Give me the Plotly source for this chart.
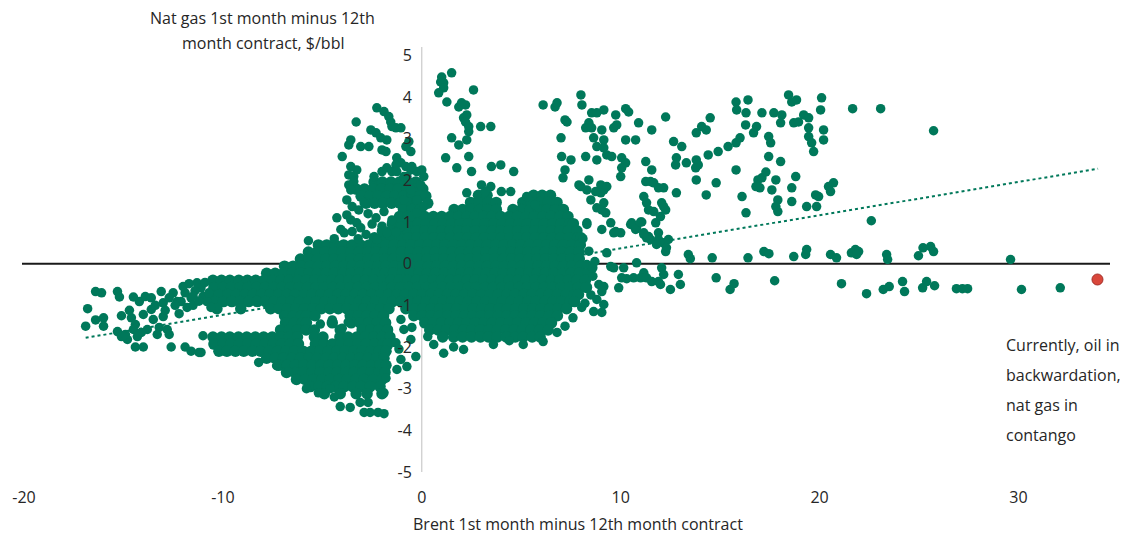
import plotly.graph_objects as go

# Brent 1st-12th month spread (x) vs nat gas 1st-12th month spread (y), $/bbl

# Dense part of the cloud, one row per gas-spread level: (y, [x values])
dense_rows = [
    (1.96, [-2.4, -1.98, -1.55, -1.12, -0.7, -0.3]),
    (1.79, [-3.3, -2.88, -2.45, -2.03, -1.6, -1.18, -0.75, -0.33, 0.05]),
    (1.64, [2.85, 3.28, 5.62, 6.05, 6.47]),
    (1.62, [-3.05, -2.62, -2.2, -1.77, -1.35, -0.92, -0.5, -0.08, 0.2]),
    (1.47, [2.45, 2.88, 3.33, 3.74, 5.08, 5.51, 5.93, 6.36, 6.8]),
    (1.45, [-2.8, -2.37, -1.95, -1.52, -1.1, -0.67, -0.25, 0.3]),
    (1.30, [-0.92, -0.5, -0.08, 1.62, 2.05, 2.46, 2.9, 3.31, 3.75, 4.58, 5.02,
            5.44, 5.87, 6.29, 6.72, 7.12]),
    (1.13, [-1.12, -0.7, -0.27, 0.15, 0.58, 1.0, 1.43, 1.85, 2.27, 2.7, 3.12,
            3.54, 3.97, 4.39, 4.82, 5.24, 5.66, 6.09, 6.51, 6.94, 7.35]),
    (0.96, [-1.48, -1.05, -0.63, -0.2, 0.22, 0.65, 1.07, 1.5, 1.92, 2.35, 2.77,
            3.19, 3.62, 4.04, 4.47, 4.89, 5.31, 5.74, 6.16, 6.59, 7.01, 7.43, 7.62]),
    (0.79, [-1.98, -1.55, -1.13, -0.7, -0.28, 0.15, 0.57, 1.0, 1.42, 1.85, 2.27,
            2.7, 3.12, 3.55, 3.97, 4.4, 4.82, 5.25, 5.67, 6.1, 6.52, 6.95, 7.37, 7.8]),
    (0.62, [-2.38, -1.95, -1.52, -1.1, -0.67, -0.25, 0.18, 0.6, 1.03, 1.45, 1.88,
            2.3, 2.73, 3.15, 3.58, 4.0, 4.43, 4.85, 5.28, 5.7, 6.13, 6.55, 6.98,
            7.4, 7.83, 8.0]),
    (0.45, [-5.2, -4.78, -4.35, -3.93, -3.5, -3.08, -2.65, -2.23, -1.8, -1.38,
            -0.95, -0.53, -0.1, 0.32, 0.75, 1.17, 1.6, 2.02, 2.45, 2.87, 3.3, 3.72,
            4.15, 4.57, 5.0, 5.42, 5.85, 6.27, 6.7, 7.12, 7.55, 7.97]),
    (0.28, [-5.7, -5.27, -4.85, -4.42, -4.0, -3.57, -3.15, -2.72, -2.3, -1.87,
            -1.45, -1.02, -0.6, -0.17, 0.25, 0.68, 1.1, 1.53, 1.95, 2.38, 2.8, 3.23,
            3.65, 4.08, 4.5, 4.93, 5.35, 5.78, 6.2, 6.63, 7.05, 7.48, 7.9]),
    (0.11, [-6.1, -5.68, -5.25, -4.83, -4.4, -3.98, -3.55, -3.13, -2.7, -2.28,
            -1.85, -1.43, -1.0, -0.58, -0.15, 0.27, 0.7, 1.12, 1.55, 1.97, 2.4,
            2.82, 3.25, 3.67, 4.1, 4.52, 4.95, 5.37, 5.8, 6.22, 6.65, 7.07, 7.5, 7.92]),
    (-0.06, [-6.9, -6.47, -6.05, -5.62, -5.2, -4.77, -4.35, -3.92, -3.5, -3.07,
             -2.65, -2.22, -1.8, -1.37, -0.95, -0.52, -0.1, 0.33, 0.75, 1.18, 1.6,
             2.03, 2.45, 2.88, 3.3, 3.73, 4.15, 4.58, 5.0, 5.43, 5.85, 6.28, 6.7,
             7.13, 7.55, 7.98]),
    (-0.23, [-7.8, -7.37, -6.95, -6.52, -6.1, -5.67, -5.25, -4.82, -4.4, -3.97,
             -3.55, -3.12, -2.7, -2.27, -1.85, -1.42, -1.0, -0.57, -0.15, 0.28, 0.7,
             1.13, 1.55, 1.98, 2.4, 2.83, 3.25, 3.68, 4.1, 4.53, 4.95, 5.38, 5.8,
             6.23, 6.65, 7.08, 7.5, 7.93, 8.35]),
    (-0.40, [-10.5, -10.07, -9.65, -9.2, -8.77, -8.35, -7.92, -7.5, -7.07, -6.65,
             -6.22, -5.8, -5.37, -4.95, -4.52, -4.1, -3.67, -3.25, -2.82, -2.4,
             -1.97, -1.55, -1.12, -0.7, -0.27, 0.15, 0.58, 1.0, 1.43, 1.85, 2.28,
             2.7, 3.13, 3.55, 3.98, 4.4, 4.83, 5.25, 5.68, 6.1, 6.53, 6.95, 7.38,
             7.8, 8.23]),
    (-0.57, [-10.45, -10.0, -9.57, -9.15, -8.72, -8.3, -7.87, -7.45, -7.02, -6.6,
             -6.17, -5.75, -5.32, -4.9, -4.47, -4.05, -3.62, -3.2, -2.77, -2.35,
             -1.92, -1.5, -1.07, -0.65, -0.22, 0.2, 0.63, 1.05, 1.48, 1.9, 2.33,
             2.75, 3.18, 3.6, 4.03, 4.45, 4.88, 5.3, 5.73, 6.15, 6.58, 7.0, 7.43,
             7.85, 8.28]),
    (-0.74, [-10.6, -10.17, -9.75, -9.32, -8.9, -8.47, -8.05, -7.62, -7.2, -6.77,
             -6.35, -5.92, -5.5, -5.07, -4.65, -4.22, -3.8, -3.37, -2.95, -2.52,
             -2.1, -1.67, -1.25, -0.82, -0.4, 0.03, 0.45, 0.88, 1.3, 1.73, 2.15,
             2.58, 3.0, 3.43, 3.85, 4.28, 4.7, 5.13, 5.55, 5.98, 6.4, 6.83, 7.25,
             7.68, 7.88]),
    (-0.91, [-10.4, -9.97, -9.55, -9.12, -8.7, -8.27, -7.85, -7.42, -7.0, -6.57,
             -6.15, -5.72, -5.3, -4.87, -4.45, -4.02, -3.6, -3.17, -2.75, -2.32,
             -1.9, -1.47, -1.05, -0.62, -0.2, 0.23, 0.65, 1.08, 1.5, 1.93, 2.35,
             2.78, 3.2, 3.63, 4.05, 4.48, 4.9, 5.33, 5.75, 6.18, 6.6, 7.03, 7.45, 7.68]),
    (-1.08, [-10.3, -9.1, -7.6, -7.17, -6.75, -6.32, -5.9, -5.47, -5.05, -4.62,
             -4.2, -3.77, -3.35, -2.92, -2.5, -2.07, -1.65, -0.8, -0.37, 0.05, 0.48,
             0.9, 1.33, 1.75, 2.18, 2.6, 3.03, 3.45, 3.88, 4.3, 4.73, 5.15, 5.58,
             6.0, 6.43, 6.85, 7.28]),
    (-1.25, [-6.9, -6.47, -6.05, -5.8, -5.37, -3.6, -3.2, -2.77, -2.35, -1.92,
             -0.4, 0.02, 0.45, 0.87, 1.3, 1.72, 2.15, 2.57, 3.0, 3.42, 3.85, 4.27,
             4.7, 5.12, 5.55, 5.97, 6.4, 6.82]),
    (-1.42, [-6.85, -6.42, -6.0, -5.8, -4.5, -3.55, -3.1, -2.67, -2.25, -1.82,
             0.15, 0.57, 1.0, 1.42, 1.85, 2.27, 2.7, 3.12, 3.55, 3.97, 4.4, 4.82,
             5.25, 5.67, 6.1, 6.52]),
    (-1.59, [-7.1, -6.67, -6.25, -5.82, -5.4, -4.1, -3.0, -2.57, -2.15, -1.72,
             0.4, 0.82, 1.25, 1.67, 2.1, 2.52, 2.95, 3.37, 3.8, 4.22, 4.65, 5.07,
             5.5, 5.92, 6.35]),
    (-1.76, [-10.5, -10.07, -9.65, -9.22, -8.8, -8.37, -7.95, -7.52, -7.1, -6.67,
             -6.25, -5.4, -4.97, -4.12, -3.7, -3.27, -2.85, -2.42, -2.0, -1.6, 1.05,
             1.6, 2.05, 2.5, 2.95, 3.35, 3.8, 4.25, 4.7, 5.1, 5.55, 5.95]),
    (-1.93, [-10.45, -10.0, -9.6, -9.17, -8.75, -8.32, -7.9, -7.47, -7.05, -6.62,
             -6.2, -5.35, -4.92, -4.5, -4.07, -3.65, -3.22, -2.8, -2.37, -1.95, -1.7]),
    (-2.10, [-10.2, -9.8, -9.37, -8.95, -8.52, -8.1, -7.67, -7.25, -6.82, -6.4,
             -5.97, -5.55, -5.12, -4.7, -4.27, -3.85, -3.42, -3.0, -2.57, -2.15, -1.8]),
    (-2.27, [-7.8, -7.37, -6.95, -6.52, -6.1, -5.67, -5.25, -4.82, -4.4, -3.97,
             -3.55, -3.12, -2.7, -2.27, -1.9]),
    (-2.44, [-7.2, -6.77, -6.35, -5.92, -5.5, -5.07, -4.65, -4.22, -3.8, -3.37,
             -2.95, -2.52, -2.1, -1.8]),
    (-2.61, [-6.8, -6.37, -5.95, -5.52, -5.1, -4.67, -4.25, -3.82, -3.4, -2.97,
             -2.55, -2.15, -1.85]),
    (-2.78, [-6.3, -5.87, -5.45, -5.02, -4.6, -4.17, -3.75, -3.32, -2.9, -2.45, -2.0]),
    (-2.95, [-5.6, -5.17, -4.75, -4.32, -3.9, -3.47, -3.05, -2.6, -2.1]),
    (-3.12, [-4.9, -4.1, -3.3, -2.75, -2.0]),
]

# Scattered observations, (x, y)
left_tail = [
    (-16.4, -0.67), (-16.1, -0.7), (-15.3, -0.67), (-15.2, -0.8), (-16.8, -1.08),
    (-16.9, -1.5), (-16.4, -1.35), (-16.0, -1.3), (-16.0, -1.5), (-14.5, -0.8),
    (-15.1, -1.25), (-14.6, -1.3), (-14.4, -1.46), (-14.5, -1.58), (-15.3, -1.63),
    (-15.1, -1.75), (-14.8, -1.82), (-14.9, -1.7), (-14.4, -2.0), (-14.0, -2.0),
    (-14.2, -0.91), (-13.9, -0.79), (-13.6, -0.82), (-13.1, -0.67), (-13.6, -1.1),
    (-14.0, -1.22), (-13.5, -1.34), (-13.2, -1.53), (-13.8, -1.58), (-14.1, -1.65),
    (-13.0, -1.27), (-12.8, -1.58), (-12.7, -1.7), (-12.6, -2.0), (-13.0, -0.94),
    (-12.5, -0.7), (-12.3, -0.91), (-11.9, -0.7), (-12.1, -0.91), (-11.9, -2.0),
    (-11.6, -2.1), (-11.2, -2.13), (-11.1, -2.13), (-11.0, -1.73), (-11.6, -0.82),
    (-11.3, -0.46), (-11.1, -0.58), (-11.0, -0.79), (-10.8, -0.91), (-10.6, -1.05),
    (-13.4, -1.0), (-12.9, -1.12), (-13.3, -1.7), (-12.2, -1.2), (-11.8, -1.05),
    (-11.5, -1.0), (-12.0, -0.55), (-11.7, -0.48), (-14.7, -1.12), (-14.3, -1.75),
    (-12.7, -0.82), (-12.4, -1.0), (-11.4, -0.65), (-11.2, -0.9), (-10.9, -0.45),
    (-10.7, -0.7), (-11.5, -0.78),
]

spike_pts = [
    (-2.26, 3.74), (-1.9, 3.65), (-1.66, 3.53), (-1.56, 3.4), (-1.5, 3.29),
    (-1.3, 3.26), (-1.05, 3.26), (-3.3, 3.4), (-2.56, 3.21), (-2.3, 3.14),
    (-2.06, 3.02), (-1.76, 2.97), (-3.57, 2.97), (-3.67, 2.85), (-3.07, 2.81),
    (-2.66, 2.81), (-2.0, 2.73), (-1.8, 2.69), (-0.65, 2.93), (-0.55, 2.69),
    (-0.8, 2.81), (-4.0, 2.57), (-1.26, 2.54), (-1.05, 2.42), (-1.3, 2.37),
    (-3.57, 2.33), (-3.27, 2.25), (-3.67, 2.13), (-3.42, 2.09), (-3.42, 1.97),
    (-2.4, 2.09), (-2.0, 2.21), (-1.76, 2.3), (-1.5, 2.21), (-1.26, 2.21),
    (-0.9, 2.09), (-0.55, 2.25), (-0.25, 2.21), (-3.67, 1.89), (-3.57, 1.77),
    (-3.77, 1.53), (-3.5, 1.37), (-3.17, 1.29), (-2.9, 1.46), (-4.27, 1.1),
    (-3.77, 1.17), (-3.57, 1.05), (-3.27, 0.98), (-4.07, 0.82), (-3.9, 0.74),
    (-3.5, 0.77), (-3.07, 0.86), (-2.26, 0.58), (-1.76, 0.74), (-1.05, 0.89),
    (-0.55, 1.13), (-0.25, 1.22), (-0.8, 2.33), (-0.5, 2.33), (0.0, 2.25),
    (0.1, 2.09), (-0.75, 2.09), (-0.05, 1.89), (-0.55, 1.77), (-0.9, 1.53),
    (-0.25, 1.53), (0.1, 1.37), (-2.7, 1.2), (-2.3, 1.1), (-1.9, 1.25),
    (-2.5, 0.95), (-2.0, 0.9), (-1.5, 1.05), (-2.8, 0.7), (-1.3, 0.75),
    (1.0, 4.48), (1.5, 4.58), (0.95, 4.36), (1.1, 4.34), (1.1, 4.22), (0.85, 4.1),
    (2.6, 4.17), (1.26, 3.88), (1.86, 3.76), (2.0, 3.86), (2.2, 3.81), (2.1, 3.5),
    (2.26, 3.57), (2.2, 3.4), (2.36, 3.29), (2.36, 3.17), (2.26, 2.97), (2.96, 3.29),
    (3.47, 3.29), (1.5, 3.02), (1.86, 2.85), (1.2, 2.54), (2.36, 2.57), (1.76, 2.3),
    (2.5, 2.21), (3.5, 2.33), (3.97, 2.37), (4.62, 2.21), (3.0, 1.89), (3.47, 1.85),
    (3.2, 1.73), (2.26, 1.7), (4.0, 1.73), (4.47, 1.73), (5.27, 1.61), (5.7, 1.41),
]

upper_right = [
    (6.1, 3.81), (6.7, 3.76), (6.8, 3.86), (7.2, 3.45), (7.3, 3.4), (7.0, 3.02),
    (7.03, 2.57), (7.5, 2.49), (7.2, 2.25), (7.1, 2.06), (8.0, 4.05), (8.05, 3.81),
    (8.0, 1.85), (8.54, 3.62), (8.8, 3.62), (9.15, 3.69), (9.75, 3.57), (10.4, 3.64),
    (10.25, 3.72), (8.4, 3.38), (8.24, 3.26), (8.54, 3.26), (9.05, 3.21), (9.65, 3.26),
    (9.8, 3.33), (10.9, 3.38), (11.56, 3.21), (12.26, 3.52), (8.64, 3.02), (9.15, 2.97),
    (8.8, 2.81), (9.15, 2.78), (9.3, 2.61), (9.55, 2.57), (10.25, 2.97), (10.75, 2.97),
    (8.24, 2.57), (8.8, 2.49), (10.05, 2.54), (10.25, 2.42), (10.05, 2.3), (10.0, 2.09),
    (11.26, 2.45), (11.56, 2.25), (12.66, 2.93), (13.07, 2.81), (12.8, 2.54),
    (12.76, 2.37), (13.3, 2.42), (13.8, 2.49), (13.9, 2.37), (13.77, 2.3),
    (13.8, 3.14), (14.07, 3.29), (14.3, 3.21), (14.5, 3.5), (14.4, 2.61), (14.9, 2.69),
    (15.4, 2.81), (15.8, 2.9), (16.0, 3.02), (15.8, 3.88), (15.83, 3.69), (16.4, 3.93),
    (16.3, 3.62), (16.28, 3.33), (16.68, 3.14), (16.83, 3.29), (17.1, 3.62),
    (17.7, 3.62), (18.1, 3.57), (18.04, 3.38), (18.44, 4.05), (18.6, 3.88),
    (18.84, 3.93), (18.7, 3.38), (18.94, 3.4), (19.2, 3.57), (19.45, 3.5), (20.1, 3.98),
    (20.05, 3.69), (19.45, 3.26), (19.45, 3.05), (19.6, 2.9), (19.7, 2.69), (20.2, 3.21),
    (20.2, 2.97), (17.44, 3.05), (17.54, 2.9), (17.44, 2.57), (18.04, 2.45),
    (15.8, 2.25), (14.8, 1.94), (14.3, 1.65), (13.8, 2.01), (12.8, 1.7),
    (11.5, 1.97), (11.26, 1.97), (11.66, 1.94), (11.9, 1.82), (12.16, 1.82),
    (11.16, 1.61), (11.3, 1.46), (11.4, 1.29), (11.66, 1.25), (12.0, 1.13),
    (12.06, 1.46), (12.16, 1.37), (12.26, 1.29), (10.55, 0.98), (10.8, 0.86),
    (11.06, 1.0), (11.16, 0.74), (11.4, 0.65), (11.76, 0.98), (11.9, 0.74), (11.9, 0.58),
    (12.16, 0.5), (12.4, 0.58), (12.3, 0.38), (9.5, 0.98), (9.75, 0.77), (10.0, 0.74),
    (9.05, 0.82), (9.25, 1.22), (8.8, 1.34), (8.5, 1.53), (8.3, 1.77), (8.4, 2.01),
    (7.9, 1.89), (9.0, 1.89), (9.15, 1.77), (9.3, 1.85), (9.0, 1.7), (8.74, 1.73),
    (9.15, 1.46), (9.05, 1.29), (8.3, 0.98), (16.1, 1.61), (16.9, 2.01), (17.1, 2.06),
    (16.8, 1.85), (17.0, 1.82), (16.3, 1.22), (17.3, 2.2), (17.6, 1.77), (17.8, 2.01),
    (17.9, 1.53), (17.9, 1.25), (17.8, 1.37), (18.6, 1.49), (18.8, 2.09), (18.6, 1.82),
    (19.35, 1.37), (19.85, 1.37), (19.8, 1.65), (19.95, 1.61), (20.45, 1.85),
    (20.7, 1.94), (20.55, 1.73), (21.66, 3.72), (23.07, 3.72), (25.73, 3.19), (22.6, 1.03),
]

near_zero = [
    (8.3, 0.94), (9.65, 0.74), (10.5, 0.94), (10.75, 0.82), (11.0, 1.0), (11.16, 0.7),
    (11.3, 0.62), (11.5, 0.58), (11.8, 0.46), (12.26, 0.29), (9.3, 0.26),
    (13.4, 0.22), (13.5, 0.12), (14.6, 0.14), (16.4, 0.14), (17.2, 0.29), (17.45, 0.24),
    (18.7, 0.17), (19.3, 0.22), (19.35, 0.34), (20.55, 0.22), (20.85, 0.14), (21.6, 0.26),
    (21.8, 0.34), (21.96, 0.29), (21.86, 0.22), (23.37, 0.22), (23.42, 0.1),
    (24.97, 0.19), (25.2, 0.38), (25.58, 0.41), (25.73, 0.29), (29.6, 0.1),
    (8.3, -0.02), (9.5, -0.07), (9.65, -0.1), (10.15, -0.1), (10.8, 0.02), (11.16, -0.22),
    (10.05, -0.34), (10.3, -0.36), (10.65, -0.34), (11.0, -0.34), (11.3, -0.34),
    (11.56, -0.43), (11.9, -0.43), (12.06, -0.1), (12.16, -0.26), (12.0, -0.5),
    (12.5, -0.62), (12.9, -0.26), (13.0, -0.5), (9.9, -0.58), (9.05, -0.67),
    (9.15, -0.98), (9.05, -1.17), (8.64, -1.15), (8.04, -1.05), (14.8, -0.34),
    (15.5, -0.62), (15.7, -0.48), (17.74, -0.41), (21.1, -0.48), (22.36, -0.72),
    (23.2, -0.62), (23.5, -0.55), (24.17, -0.43), (24.27, -0.67), (25.18, -0.58),
    (25.38, -0.43), (25.78, -0.53), (26.88, -0.6), (27.18, -0.6), (27.44, -0.6),
    (30.15, -0.62), (32.1, -0.58),
]

core_fringe = [
    (8.6, -0.3), (8.9, -0.5), (8.5, -0.75), (8.2, -0.95), (7.6, -1.3), (7.2, -1.5),
    (6.8, -1.65), (8.7, 0.05), (8.4, 0.3), (8.1, 0.6), (8.6, -0.1), (9.15, -0.55),
    (8.8, -0.86), (0.6, -1.94), (2.1, -2.06), (3.6, -1.94), (5.1, -1.94), (6.1, -1.87),
    (1.1, -2.15), (0.3, -1.75), (1.6, -2.0), (4.4, -1.85), (-1.05, -1.34), (-0.9, -1.58),
    (-0.5, -1.53), (-0.55, -1.82), (-0.3, -2.23), (-0.75, -2.47), (-1.25, -2.54),
    (-1.05, -2.3), (-1.3, -1.9), (-1.15, -2.05), (-5.2, -3.1), (-4.6, -3.0),
    (-4.4, -3.2), (-4.1, -3.43), (-3.6, -3.45), (-3.1, -3.33), (-2.7, -3.33),
    (-2.9, -3.57), (-2.6, -3.57), (-2.2, -3.57), (-1.9, -3.6), (-8.2, -2.37),
    (-1.9, -3.1), (-1.8, -2.75), (-6.7, -2.6), (-7.3, -2.45), (-5.8, -3.0),
    (-5.1, -1.45), (-4.5, -1.35), (-4.0, -1.55), (-3.7, -1.4), (-5.7, 0.55),
    (-4.4, 0.6), (-3.2, 0.6),
]

# Latest observation
current_x = [33.97]
current_y = [-0.38]

# Linear trend endpoints
trend_x = [-16.9, 34.0]
trend_y = [-1.78, 2.28]

x_ticks = [-20, -10, 0, 10, 20, 30]
x_tick_text = ["-20", "-10", "0", "10", "20", "30"]
y_ticks = [-5, -4, -3, -2, -1, 0, 1, 2, 3, 4, 5]
y_tick_text = ["-5", "-4", "-3", "-2", "-1", "0", "1", "2", "3", "4", "5"]
x_range = [-20.1, 34.6]
y_range = [-5.0, 5.2]

GREEN = "#00785A"
RED = "#D9473B"
TEXT = "#262626"
FONT = "Open Sans"

dense_x, dense_y = [], []
for yv, row in dense_rows:
    dense_x.extend(row)
    dense_y.extend([yv] * len(row))

scat_x, scat_y = [], []
for group in (left_tail, spike_pts, upper_right, near_zero, core_fringe):
    scat_x.extend(p[0] for p in group)
    scat_y.extend(p[1] for p in group)

fig = go.Figure()
fig.add_trace(go.Scatter(
    x=trend_x, y=trend_y, mode="lines",
    line=dict(color=GREEN, width=2, dash="dot"), hoverinfo="skip",
))
# the packed core of the cloud: overlapping markers merge into a solid mass
fig.add_trace(go.Scatter(
    x=dense_x, y=dense_y, mode="markers",
    marker=dict(size=11.5, color=GREEN, line=dict(width=0)), hoverinfo="skip",
))
fig.add_trace(go.Scatter(
    x=scat_x, y=scat_y, mode="markers",
    marker=dict(size=9.5, color=GREEN, line=dict(width=0)), hoverinfo="skip",
))
fig.add_trace(go.Scatter(
    x=current_x, y=current_y, mode="markers",
    marker=dict(size=11, color=RED, line=dict(color="#A3302A", width=1)),
    hoverinfo="skip",
))

y_pos = (0 - x_range[0]) / (x_range[1] - x_range[0])

fig.update_layout(
    width=1128, height=541,
    margin=dict(l=16, r=18, t=47, b=69),
    paper_bgcolor="white", plot_bgcolor="white",
    showlegend=False,
    font=dict(family=FONT, size=16, color=TEXT),
    xaxis=dict(
        range=x_range, tickvals=x_ticks, ticktext=x_tick_text, ticks="",
        showgrid=False, zeroline=False, showline=False, ticklabelstandoff=14,
        tickfont=dict(family=FONT, size=16, color=TEXT),
    ),
    yaxis=dict(
        range=y_range, tickvals=y_ticks, ticktext=y_tick_text, ticks="",
        showgrid=False, zeroline=False, showline=False, anchor="free",
        position=y_pos, ticklabelstandoff=10,
        tickfont=dict(family=FONT, size=16, color=TEXT),
    ),
    shapes=[
        dict(type="line", xref="paper", x0=0, x1=1, yref="y", y0=0, y1=0,
             line=dict(color="#1A1A1A", width=2), layer="below"),
        dict(type="line", xref="x", x0=0, x1=0, yref="paper", y0=0, y1=1,
             line=dict(color="#BFBFBF", width=1), layer="below"),
    ],
)

def note(text, x, y, xanchor="center"):
    fig.add_annotation(text=text, xref="paper", yref="paper", x=x, y=y,
                       xanchor=xanchor, yanchor="middle", showarrow=False,
                       font=dict(family=FONT, size=16, color=TEXT))

note("Nat gas 1st month minus 12th", 0.2212, 1.068)
note("month contract, $/bbl", 0.2212, 1.0094)
note("Brent 1st month minus 12th month contract", 0.511, -0.1224)
for i, line in enumerate(["Currently, oil in", "backwardation,", "nat gas in", "contango"]):
    note(line, 0.9022, 0.2988 - i * 0.0706, xanchor="left")

fig.write_html("out.html")
